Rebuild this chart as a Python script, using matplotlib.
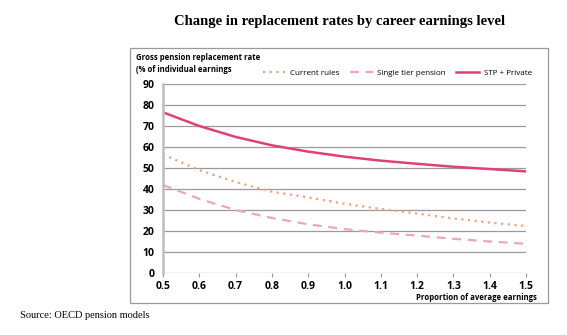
import matplotlib
matplotlib.use("Agg")
import matplotlib.pyplot as plt
from matplotlib.patches import Rectangle

earnings = [0.5, 0.6, 0.7, 0.8, 0.9, 1.0, 1.1, 1.2, 1.3, 1.4, 1.5]
current_rules = [56.4, 49.0, 43.3, 38.7, 36.0, 33.0, 30.5, 28.3, 26.0, 24.0, 22.4]
single_tier = [41.9, 35.3, 30.0, 26.2, 23.2, 20.9, 19.2, 17.8, 16.3, 15.0, 13.9]
stp_private = [76.5, 70.0, 64.8, 60.8, 57.8, 55.4, 53.5, 52.0, 50.6, 49.5, 48.4]
xticks = [0.5, 0.6, 0.7, 0.8, 0.9, 1.0, 1.1, 1.2, 1.3, 1.4, 1.5]
yticks = [0, 10, 20, 30, 40, 50, 60, 70, 80, 90]

W, H = 567, 335
fig = plt.figure(figsize=(W / 100, H / 100), dpi=100)
fig.patch.set_facecolor("white")

# chart box border
fig.add_artist(Rectangle((130 / W, 1 - 303 / H), (548 - 130) / W, (303 - 48) / H,
                         transform=fig.transFigure, fill=False, edgecolor="#9a9a9a", lw=0.9))

ax = fig.add_axes([163 / W, 1 - 273 / H, (526 - 163) / W, (273 - 84) / H])
sans = ["Open Sans", "DejaVu Sans"]

ax.plot(earnings, current_rules, color="#F2A27E", lw=1.6, linestyle=(0, (1, 2)), label="Current rules")
ax.plot(earnings, single_tier, color="#F0A3C3", lw=1.6, linestyle=(0, (4, 3)), label="Single tier pension")
ax.plot(earnings, stp_private, color="#E0407A", lw=1.8, label="STP + Private")

ax.set_xlim(0.5, 1.5)
ax.set_ylim(0, 90)
ax.set_xticks(xticks)
ax.set_xticklabels([f"{v:.1f}" for v in xticks], fontsize=7.5, fontweight="bold", family=sans)
ax.set_yticks(yticks)
ax.set_yticklabels([str(v) for v in yticks], fontsize=7.5, fontweight="bold", family=sans)
ax.grid(axis="y", color="#9a9a9a", lw=0.9)
ax.set_axisbelow(True)
for s in ["top", "right", "bottom"]:
    ax.spines[s].set_visible(False)
ax.spines["left"].set_color("#bdbdbd")
ax.spines["left"].set_linewidth(1.8)
ax.tick_params(axis="y", length=0, pad=6)
ax.tick_params(axis="x", length=3, color="#9a9a9a", pad=3)

fig.text(340 / W, 1 - 22 / H, "Change in replacement rates by career earnings level",
         ha="center", va="center", fontsize=10.5, fontweight="bold", family="Liberation Serif")
fig.text(136 / W, 1 - 58 / H, "Gross pension replacement rate", ha="left", va="center",
         fontsize=5.6, fontweight="bold", family=sans)
fig.text(136 / W, 1 - 70 / H, "(% of individual earnings", ha="left", va="center",
         fontsize=5.6, fontweight="bold", family=sans)
fig.text(537 / W, 1 - 298 / H, "Proportion of average earnings", ha="right", va="center",
         fontsize=5.6, fontweight="bold", family=sans)
fig.text(20 / W, 1 - 316 / H, "Source: OECD pension models", ha="left", va="center",
         fontsize=7.5, family="Liberation Serif")

leg = fig.legend(loc="center right", bbox_to_anchor=(532 / W, 1 - 73 / H), ncol=3, frameon=False,
                 prop={"family": sans, "size": 5.8}, handlelength=2.8, columnspacing=1.3,
                 handletextpad=0.6, borderaxespad=0, borderpad=0)

fig.savefig("out.png", dpi=100, facecolor="white")
